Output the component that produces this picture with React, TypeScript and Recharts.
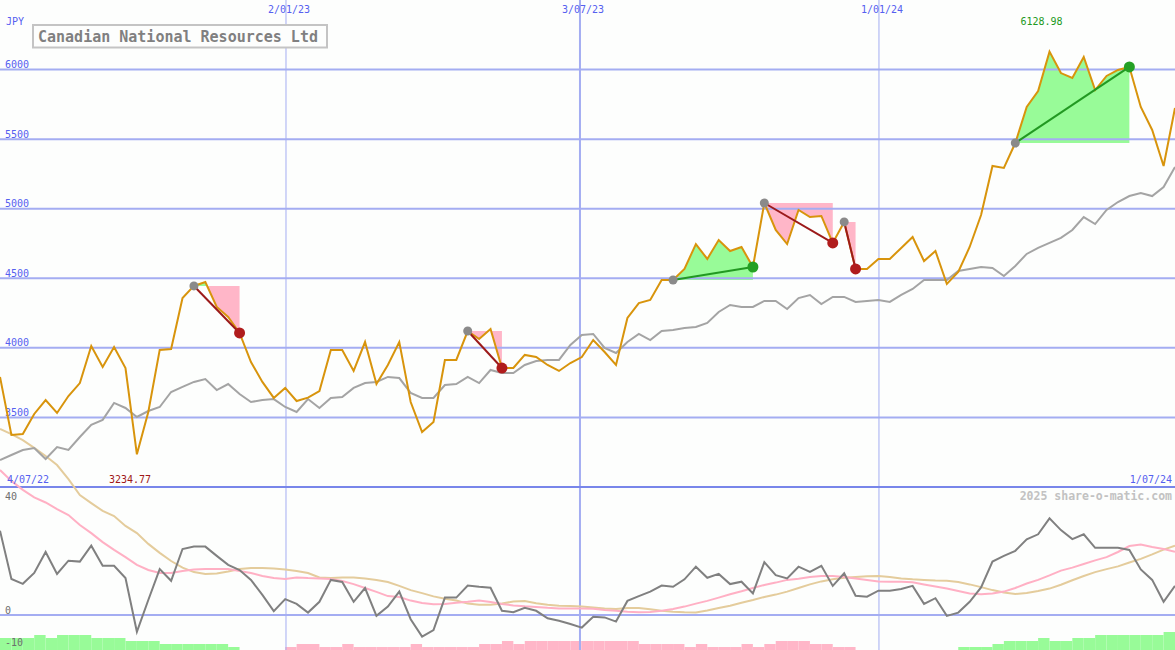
import React from 'react';
import { ComposedChart, XAxis, YAxis, Line, Area, Bar, Cell, ReferenceLine } from 'recharts';

const W = 1175;
const H = 650;
const MONO = '"DejaVu Sans Mono", monospace';

// weekly close, 4/07/22 .. 1/07/24 (JPY)
const price = [
  3791, 3374, 3381, 3525, 3625, 3532, 3654, 3747, 4013, 3862,
  4006, 3855, 3234.77, 3539, 3985, 3992, 4358, 4445, 4473, 4294,
  4222, 4107, 3898, 3755, 3640, 3712, 3618, 3642, 3690, 3985,
  3985, 3834, 4042, 3740, 3877, 4042, 3611, 3395, 3467, 3913,
  3913, 4121, 4064, 4136, 3855, 3855, 3949, 3934, 3877, 3834,
  3891, 3934, 4056, 3970, 3877, 4215, 4322, 4344, 4488, 4488,
  4567, 4746, 4639, 4775, 4696, 4725, 4581, 5041, 4847, 4746,
  4991, 4940, 4948, 4754, 4905, 4567, 4567, 4639, 4639, 4718,
  4797, 4624, 4696, 4459, 4545, 4725, 4955, 5307, 5293, 5472,
  5731, 5846, 6128.98, 5975, 5940, 6090, 5853, 5954, 5997, 6019,
  5731, 5566, 5307, 5724,
];

// moving average of the close
const priceAvg = [
  3194, 3230, 3266, 3280, 3201, 3287, 3266, 3359, 3446, 3482,
  3604, 3568, 3503, 3546, 3575, 3683, 3719, 3755, 3776, 3697,
  3740, 3668, 3611, 3625, 3632, 3575, 3539, 3632, 3568, 3640,
  3647, 3712, 3747, 3755, 3791, 3783, 3676, 3640, 3640, 3733,
  3740, 3791, 3747, 3841, 3819, 3819, 3877, 3906, 3913, 3913,
  4021, 4092, 4100, 3999, 3963, 4042, 4100, 4056, 4121, 4128,
  4143, 4150, 4179, 4258, 4308, 4294, 4294, 4337, 4337, 4279,
  4358, 4380, 4315, 4366, 4366, 4330, 4337, 4344, 4330, 4380,
  4423, 4488, 4488, 4488, 4552, 4567, 4581, 4574, 4516, 4588,
  4675, 4718, 4754, 4790, 4847, 4940, 4890, 4991, 5048, 5091,
  5113, 5091, 5156, 5300,
];

// lower panel: momentum and its two averages
const momentum = [
  28.1, 12, 10.4, 14, 21, 13.7, 18.1, 17.8, 23.1, 16.4,
  16.4, 12.3, -5.6, 5, 15.3, 11.4, 22, 22.8, 22.8, 19.7,
  16.7, 15, 11.7, 6.7, 1.3, 5.3, 3.7, 0.8, 4.4, 11.7,
  11, 4.4, 9, -0.3, 2.8, 7.8, -1.4, -7.2, -5, 5.8,
  5.8, 9.8, 9.4, 9.1, 1.4, 0.9, 2.4, 1.4, -1.1, -1.9,
  -3, -4.2, -0.6, -0.8, -2.2, 4.7, 6.3, 7.8, 9.8, 9.4,
  11.9, 16.1, 12.4, 13.7, 10.3, 11.1, 7.2, 17.6, 13.3, 12.2,
  16.1, 14.4, 16.4, 9.7, 13.9, 6.4, 6.1, 8.1, 8.1, 8.7,
  9.7, 3.7, 5.6, -0.3, 0.8, 4.4, 9.2, 17.8, 19.7, 21.4,
  25.2, 26.9, 32.2, 28.3, 25.3, 26.9, 22.4, 22.4, 22.4, 21.7,
  15.2, 11.7, 4.4, 9.7,
];

const momentumFast = [
  48.3, 44.7, 41.7, 39.2, 37.5, 35.3, 33.3, 30, 27.3, 24.3,
  21.7, 19.3, 16.7, 15, 14, 14, 14.7, 15.2, 15.3, 15.3,
  15.3, 14.7, 14, 13, 12.3, 12, 12.5, 12.3, 12.2, 12,
  11.3, 10.3, 9, 7.7, 6.3, 6, 4.8, 4, 3.6, 3.7,
  4.1, 4.4, 4.8, 4.3, 3.7, 3.2, 2.9, 2.7, 2.4, 2.2,
  2.2, 2.2, 2.1, 1.7, 1.4, 1.1, 0.9, 1, 1.4, 2,
  2.8, 3.8, 4.7, 5.8, 6.9, 7.9, 9, 10, 10.8, 11.7,
  12.1, 12.7, 13, 13, 12.7, 12.2, 11.7, 11.2, 11.1, 11.1,
  10.9, 10.2, 9.5, 8.8, 8, 7.2, 6.9, 7.2, 7.8, 9,
  10.5, 11.7, 13.2, 14.8, 15.8, 17, 18.2, 19.3, 21, 23,
  23.5, 22.7, 22, 21.1,
];

const momentumSlow = [
  62, 60.3, 58.3, 55.7, 53, 50, 45.3, 40, 37.3, 34.7,
  33, 29.7, 27.3, 23.7, 20.7, 18, 15.8, 14.3, 13.7, 13.8,
  14.5, 15.3, 15.7, 15.7, 15.5, 15.2, 14.7, 14, 12.5, 12.3,
  12.5, 12.5, 12.2, 11.7, 11, 9.7, 8.3, 7.3, 6.2, 5.4,
  4.8, 3.8, 3.4, 3.4, 3.8, 4.5, 4.7, 3.9, 3.4, 3.1,
  3, 2.8, 2.5, 2.2, 2, 2.3, 2.3, 1.9, 1.4, 1.1,
  0.9, 0.8, 1.5, 2.3, 3.1, 4.1, 5, 6, 6.8, 7.8,
  9, 10.2, 11.2, 11.9, 12.4, 12.7, 12.9, 13, 12.7, 12.2,
  11.9, 11.7, 11.5, 11.4, 11, 10.2, 9.3, 8.3, 7.5, 7,
  7.3, 8, 8.8, 10.1, 11.6, 13, 14.3, 15.3, 16.2, 17.5,
  18.7, 20.2, 21.8, 23.1,
];

// trend strength strip along the bottom (+ up / - down)
const trend = [
  4, 4, 4, 5, 4, 5, 5, 5, 4, 4,
  4, 3, 3, 3, 2, 2, 2, 2, 2, 2,
  1, 0, 0, 0, 0, -1, -2, -2, -1, -1,
  -2, -1, -1, -1, -1, -1, -2, -1, -1, -1,
  -1, -1, -2, -2, -3, -2, -3, -3, -3, -3,
  -3, -3, -3, -3, -3, -3, -2, -2, -2, -2,
  -1, -2, -1, -1, -1, -2, -1, -2, -3, -3,
  -3, -2, -2, -1, -1, 0, 0, 0, 0, 0,
  0, 0, 0, 0, 1, 1, 1, 2, 3, 3,
  3, 4, 3, 3, 4, 4, 5, 5, 5, 5,
  5, 5, 6, 6,
];

const trades = [
  { entry: 17, exit: 21 },
  { entry: 41, exit: 44 },
  { entry: 59, exit: 66 },
  { entry: 67, exit: 73 },
  { entry: 74, exit: 75 },
  { entry: 89, exit: 99 },
];

const priceGrid = [3500, 4000, 4500, 5000, 5500, 6000];
const dateGrid = [
  { label: '2/01/23', week: 25.07, width: 1 },
  { label: '3/07/23', week: 50.84, width: 2 },
  { label: '1/01/24', week: 77.05, width: 1 },
];
const momentumTicks = [
  { value: 40, dy: 4.5 },
  { value: 0, dy: -1.5 },
  { value: -10, dy: 1 },
];

const BG = '#fdfefd';
const BLUE = '#5560f0';
const GRID = '#a4adf2';
const GAIN_FILL = '#98fb98';
const LOSS_FILL = '#ffb6c8';

const rows = price.map((p, i) => {
  const row: Record<string, any> = {
    i,
    price: p,
    avg: priceAvg[i],
    mom: momentum[i],
    fast: momentumFast[i],
    slow: momentumSlow[i],
    trend: Math.abs(trend[i]),
  };
  trades.forEach((t, k) => {
    if (i >= t.entry && i <= t.exit) {
      row[`fill${k}`] = [p, price[t.entry]];
      if (i === t.entry || i === t.exit) row[`leg${k}`] = p;
    }
  });
  return row;
});

const maxIdx = price.indexOf(Math.max(...price));
const minIdx = price.indexOf(Math.min(...price));

const legDot = (t: { entry: number; exit: number }, gain: boolean) => (props: any) => {
  const { cx, cy, index, value } = props;
  if (cx == null || cy == null || value == null) return <g key={`n${index}`} />;
  const isEntry = props.payload.i === t.entry;
  const fill = isEntry ? '#8a8a8a' : gain ? '#24a024' : '#b01c1c';
  return <circle key={`d${index}`} cx={cx} cy={cy} r={isEntry ? 4.5 : 5.5} fill={fill} />;
};

export default function App() {
  return (
    <div style={{ position: 'relative', width: W, height: H, background: BG }}>
      <style>{'body{margin:0}'}</style>
      <ComposedChart width={W} height={H} data={rows} margin={{ top: 0, right: 0, bottom: 0, left: 0 }}>
        <defs>
          {trades.map((t, k) => {
            const seg = price.slice(t.entry, t.exit + 1);
            const base = price[t.entry];
            const hi = Math.max(base, ...seg);
            const lo = Math.min(base, ...seg);
            const cut = hi === lo ? 1 : (hi - base) / (hi - lo);
            return (
              <linearGradient key={k} id={`trade${k}`} x1="0" y1="0" x2="0" y2="1">
                <stop offset={cut} stopColor={GAIN_FILL} />
                <stop offset={cut} stopColor={LOSS_FILL} />
              </linearGradient>
            );
          })}
        </defs>
        <XAxis xAxisId="t" dataKey="i" type="number" domain={[0, 103]} hide allowDataOverflow />
        <XAxis xAxisId="bars" dataKey="i" type="number" domain={[-0.5, 102.5]} hide allowDataOverflow />
        <YAxis yAxisId="price" type="number" domain={[1828.5, 6500]} hide allowDataOverflow />
        <YAxis yAxisId="mom" type="number" domain={[-35 / 3, 205]} hide allowDataOverflow />
        <YAxis yAxisId="bars" type="number" domain={[0, H / 3]} hide allowDataOverflow />

        {priceGrid.map((v) => (
          <ReferenceLine
            key={v}
            xAxisId="t"
            yAxisId="price"
            y={v}
            stroke={GRID}
            strokeWidth={2}
            label={(p: any) => (
              <text x={p.viewBox.x + 5} y={p.viewBox.y - 1.5} fill={BLUE} fontSize={10} fontFamily={MONO}>
                {v}
              </text>
            )}
          />
        ))}
        {dateGrid.map((d) => (
          <ReferenceLine
            key={d.label}
            xAxisId="t"
            yAxisId="price"
            x={d.week}
            stroke={GRID}
            strokeWidth={d.width}
            label={(p: any) => (
              <text x={p.viewBox.x + 3} y={p.viewBox.y + 13} fill={BLUE} fontSize={10} fontFamily={MONO} textAnchor="middle">
                {d.label}
              </text>
            )}
          />
        ))}
        <ReferenceLine xAxisId="t" yAxisId="price" y={3000} stroke="#7886ea" strokeWidth={2} />
        <ReferenceLine xAxisId="t" yAxisId="mom" y={0} stroke={GRID} strokeWidth={2} />
        {momentumTicks.map((m) => (
          <ReferenceLine
            key={m.value}
            xAxisId="t"
            yAxisId="mom"
            y={m.value}
            stroke="none"
            label={(p: any) => (
              <text x={p.viewBox.x + 5} y={p.viewBox.y + m.dy} fill="#6e6e6e" fontSize={10} fontFamily={MONO}>
                {m.value}
              </text>
            )}
          />
        ))}

        <Bar xAxisId="bars" yAxisId="bars" dataKey="trend" barSize={W / 103 - 0.02} isAnimationActive={false}>
          {trend.map((v, i) => (
            <Cell key={i} fill={v > 0 ? GAIN_FILL : LOSS_FILL} />
          ))}
        </Bar>

        {trades.map((t, k) => (
          <Area
            key={`f${k}`}
            xAxisId="t"
            yAxisId="price"
            type="linear"
            dataKey={`fill${k}`}
            stroke="none"
            fill={`url(#trade${k})`}
            fillOpacity={1}
            dot={false}
            activeDot={false}
            isAnimationActive={false}
          />
        ))}

        <Line xAxisId="t" yAxisId="mom" type="linear" dataKey="slow" stroke="#e4cc9c" strokeWidth={2} dot={false} activeDot={false} isAnimationActive={false} />
        <Line xAxisId="t" yAxisId="mom" type="linear" dataKey="fast" stroke="#ffb0c4" strokeWidth={2} dot={false} activeDot={false} isAnimationActive={false} />
        <Line xAxisId="t" yAxisId="mom" type="linear" dataKey="mom" stroke="#808080" strokeWidth={2} dot={false} activeDot={false} isAnimationActive={false} />

        <Line xAxisId="t" yAxisId="price" type="linear" dataKey="avg" stroke="#a4a4a4" strokeWidth={2} dot={false} activeDot={false} isAnimationActive={false} />
        <Line xAxisId="t" yAxisId="price" type="linear" dataKey="price" stroke="#d8940c" strokeWidth={2} dot={false} activeDot={false} isAnimationActive={false} />

        {trades.map((t, k) => {
          const gain = price[t.exit] > price[t.entry];
          return (
            <Line
              key={`l${k}`}
              xAxisId="t"
              yAxisId="price"
              type="linear"
              dataKey={`leg${k}`}
              connectNulls
              stroke={gain ? '#229922' : '#9c1a1a'}
              strokeWidth={2}
              dot={legDot(t, gain)}
              activeDot={false}
              isAnimationActive={false}
            />
          );
        })}

        <ReferenceLine
          xAxisId="t"
          yAxisId="price"
          x={maxIdx}
          stroke="none"
          label={(p: any) => (
            <text x={p.viewBox.x - 29} y={p.viewBox.y + 25} fill="#229922" fontSize={10} fontFamily={MONO}>
              {price[maxIdx].toFixed(2)}
            </text>
          )}
        />
        <ReferenceLine
          xAxisId="t"
          yAxisId="price"
          x={minIdx}
          stroke="none"
          label={(p: any) => (
            <text x={p.viewBox.x - 28} y={p.viewBox.y + 483} fill="#a01818" fontSize={10} fontFamily={MONO}>
              {price[minIdx].toFixed(2)}
            </text>
          )}
        />
      </ComposedChart>

      <svg width={W} height={H} style={{ position: 'absolute', left: 0, top: 0, pointerEvents: 'none' }}>
        <text x={6} y={24.5} fill={BLUE} fontSize={10} fontFamily={MONO}>JPY</text>
        <rect x={33} y={25} width={294} height={22.5} fill={BG} stroke="#c4c4c4" strokeWidth={2} />
        <text x={38} y={41.5} fill="#808080" fontSize={15} fontWeight="bold" fontFamily={MONO}>
          Canadian National Resources Ltd
        </text>
        <text x={7} y={483} fill={BLUE} fontSize={10} fontFamily={MONO}>4/07/22</text>
        <text x={1172} y={483} fill={BLUE} fontSize={10} fontFamily={MONO} textAnchor="end">1/07/24</text>
        <text x={1172} y={500} fill="#c2c2c2" fontSize={11.5} fontWeight="bold" fontFamily={MONO} textAnchor="end">
          2025 share-o-matic.com
        </text>
      </svg>
    </div>
  );
}
